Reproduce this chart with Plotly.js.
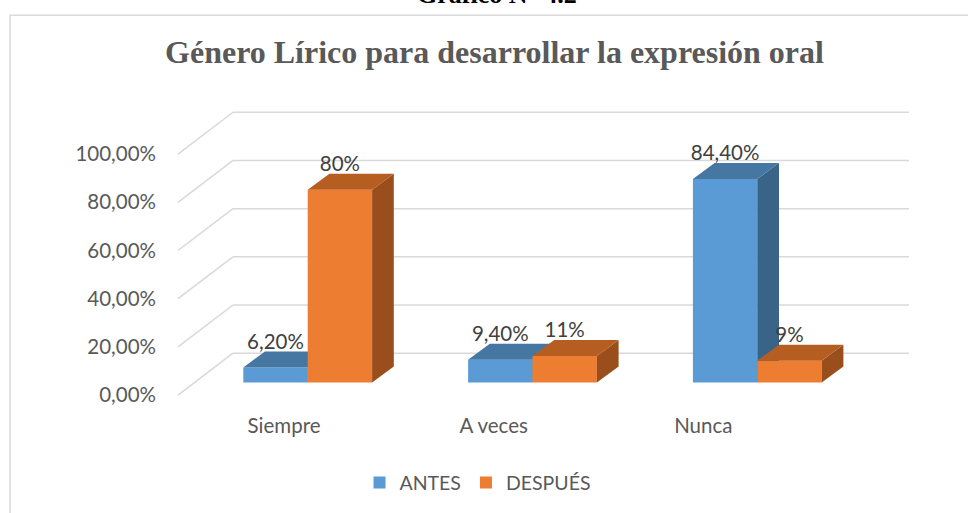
<!DOCTYPE html>
<html>
<head>
<meta charset="utf-8">
<script src="https://cdn.plot.ly/plotly-3.0.1.min.js"></script>
<style>html,body{margin:0;padding:0;background:#fff;}#chart{width:968px;height:513px;}</style>
</head>
<body>
<div id="chart"></div>
<script>
// ---- data ----
const categories = ['Siempre', 'A veces', 'Nunca'];
const antes = [6.2, 9.4, 84.4];
const despues = [80, 11, 9];
const seriesNames = ['ANTES', 'DESPUÉS'];
const yTickValues = [0, 20, 40, 60, 80, 100];
const yTickLabels = ['0,00%', '20,00%', '40,00%', '60,00%', '80,00%', '100,00%'];
const antesLabels = ['6,20%', '9,40%', '84,40%'];
const despuesLabels = ['80%', '11%', '9%'];

// ---- geometry (pixels) ----
const plotL = 160, plotR = 928, plotT = 100, plotB = 410;
const barC0 = 307.7, barStep = 224.8, barWpx = 64.4;
const labC0 = 284, labStep = 209.65;
const zeroY = 383.3, pxPct = 2.417;
const depthDx = 21.7, depthDy = 16;
const wallBackL = 233, wallBackR = 909, wallFrontL = 178;
const wallBackDy = 29.3, wallFrontDy = -12.7;
const labelDrop = 2.5;

const xb = px => (px - labC0) / labStep;   // base layer x
const xr = px => (px - barC0) / barStep;   // bar layer x
const yRange = [-(plotB - zeroY) / pxPct, (zeroY - plotT) / pxPct];
const W = barWpx / barStep, DX = depthDx / barStep, DY = depthDy / pxPct;
const backOff = wallBackDy / pxPct, frontOff = wallFrontDy / pxPct;

// gridlines (back wall + floor diagonals)
const gx = [], gy = [], dgx = [], dgy = [];
yTickValues.forEach(v => {
  gx.push(xb(wallBackL), xb(wallBackR), null); gy.push(v + backOff, v + backOff, null);
  dgx.push(xb(wallFrontL), xb(wallBackL), null); dgy.push(v + frontOff, v + backOff, null);
});

const colors = {
  ANTES: {front: '#5B9BD5', top: '#4676A2', side: '#3A6388'},
  'DESPUÉS': {front: '#ED7D31', top: '#B65E22', side: '#9A4E1C'}
};

function seriesTraces(name, vals, offset, xa, ya, labels) {
  const c = colors[name];
  const tx = [], ty = [], sx = [], sy = [], lx = [], ly = [];
  vals.forEach((v, i) => {
    const L = i + offset, R = L + W;
    tx.push(L, R, R + DX, L + DX, L, null); ty.push(v, v, v + DY, v + DY, v, null);
    sx.push(R, R, R + DX, R + DX, R, null); sy.push(0, v, v + DY, DY, 0, null);
    lx.push(L + W / 2); ly.push(v + DY - labelDrop / pxPct);
  });
  return {
    bar: {type: 'bar', name: name, x: vals.map((v, i) => i), y: vals, width: W, offset: offset,
      marker: {color: c.front, line: {width: 0}}, xaxis: xa, yaxis: ya, hoverinfo: 'skip'},
    side: {type: 'scatter', mode: 'lines', x: sx, y: sy, fill: 'toself', fillcolor: c.side,
      line: {width: 0, color: c.side}, showlegend: false, xaxis: xa, yaxis: ya, hoverinfo: 'skip'},
    top: {type: 'scatter', mode: 'lines', x: tx, y: ty, fill: 'toself', fillcolor: c.top,
      line: {width: 0, color: c.top}, showlegend: false, xaxis: xa, yaxis: ya, hoverinfo: 'skip'},
    lab: {lx: lx, ly: ly, text: labels}
  };
}

const sA = seriesTraces('ANTES', antes, -W, 'x2', 'y2', antesLabels);
const sD = seriesTraces('DESPUÉS', despues, 0, 'x3', 'y3', despuesLabels);

const labelTrace = {
  type: 'scatter', mode: 'text', x: sA.lab.lx.concat(sD.lab.lx), y: sA.lab.ly.concat(sD.lab.ly),
  text: sA.lab.text.concat(sD.lab.text), textposition: 'top center',
  textfont: {family: 'Lato, Carlito, sans-serif', size: 20.5, color: '#404040'},
  showlegend: false, xaxis: 'x3', yaxis: 'y3', hoverinfo: 'skip', cliponaxis: false
};

const data = [
  {type: 'scatter', mode: 'lines', x: gx, y: gy, line: {color: '#D9D9D9', width: 1.5}, showlegend: false, hoverinfo: 'skip'},
  {type: 'scatter', mode: 'lines', x: dgx, y: dgy, line: {color: '#D9D9D9', width: 1.5}, showlegend: false, hoverinfo: 'skip'},
  sA.bar, sA.side, sA.top,
  sD.bar, sD.side, sD.top,
  labelTrace
];

const tickFont = {family: 'Lato, Carlito, sans-serif', size: 20.5, color: '#595959'};
const hidden = {visible: false, showgrid: false, zeroline: false, fixedrange: true};

const layout = {
  width: 968, height: 513,
  margin: {l: plotL, r: 968 - plotR, t: plotT, b: 513 - plotB},
  paper_bgcolor: '#ffffff', plot_bgcolor: 'rgba(0,0,0,0)',
  barmode: 'overlay',
  showlegend: true,
  title: {
    text: 'Género Lírico para desarrollar la expresión oral',
    font: {family: 'Liberation Serif, Times New Roman, serif', size: 32, weight: 'bold', color: '#595959'},
    x: 494.5 / 968, xref: 'container', xanchor: 'center',
    y: 1 - 52 / 513, yref: 'container', yanchor: 'middle'
  },
  xaxis: {range: [xb(plotL), xb(plotR)], tickvals: [0, 1, 2], ticktext: categories,
    showgrid: false, zeroline: false, showline: false, ticks: '', tickfont: tickFont, fixedrange: true,
    ticklabelstandoff: 2},
  yaxis: {range: yRange, tickvals: yTickValues.map(v => v + frontOff), ticktext: yTickLabels,
    showgrid: false, zeroline: false, showline: false, ticks: '', tickfont: tickFont, fixedrange: true,
    ticklabelstandoff: 3},
  xaxis2: Object.assign({range: [xr(plotL), xr(plotR)], overlaying: 'x', anchor: 'y2'}, hidden),
  yaxis2: Object.assign({range: yRange, overlaying: 'y', anchor: 'x2'}, hidden),
  xaxis3: Object.assign({range: [xr(plotL), xr(plotR)], overlaying: 'x', anchor: 'y3'}, hidden),
  yaxis3: Object.assign({range: yRange, overlaying: 'y', anchor: 'x3'}, hidden),
  legend: {orientation: 'h', x: (478 - plotL) / (plotR - plotL), xanchor: 'center',
    y: (plotB - 482.7) / (plotB - plotT), yanchor: 'middle',
    font: {family: 'Lato, Carlito, sans-serif', size: 19.5, color: '#595959'}, bgcolor: 'rgba(0,0,0,0)'},
  shapes: [{type: 'rect', xref: 'paper', yref: 'paper',
    x0: (10 - plotL) / (plotR - plotL), x1: (980 - plotL) / (plotR - plotL),
    y0: (plotB - 530) / (plotB - plotT), y1: (plotB - 15) / (plotB - plotT),
    line: {color: '#D9D9D9', width: 1.5}, fillcolor: 'rgba(0,0,0,0)', layer: 'below'}],
  annotations: [{text: 'Gráfico N° 4.2', xref: 'paper', yref: 'paper',
    x: (497 - plotL) / (plotR - plotL), xanchor: 'center',
    y: (plotB - 11) / (plotB - plotT), yanchor: 'bottom', showarrow: false,
    font: {family: 'Liberation Serif, Times New Roman, serif', size: 26, weight: 'bold', color: '#000000'}}]
};

Plotly.newPlot('chart', data, layout, {staticPlot: true, displayModeBar: false});
</script>
</body>
</html>
